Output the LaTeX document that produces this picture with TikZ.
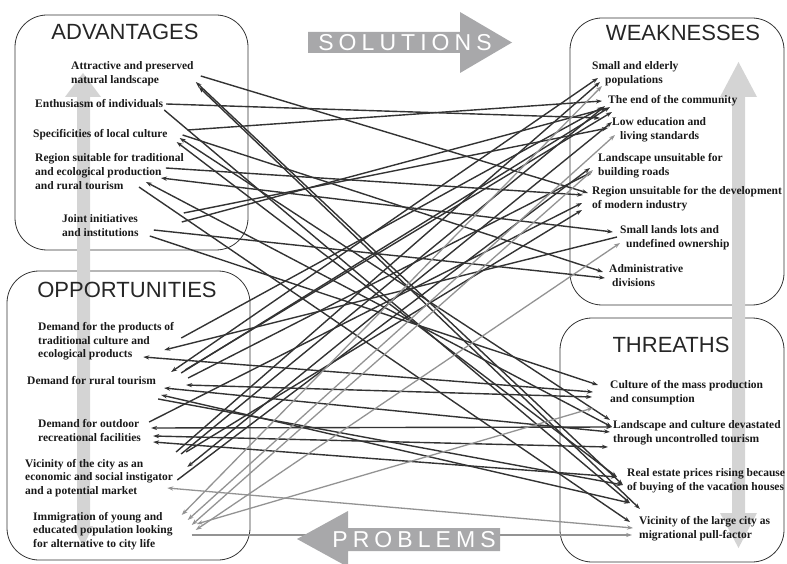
\documentclass[tikz,border=0pt]{standalone}
\usepackage{fontspec}
\setmainfont{Liberation Serif}
\setsansfont{Liberation Sans}
\usetikzlibrary{arrows.meta}
\definecolor{linkdark}{HTML}{333333}
\definecolor{linklight}{HTML}{939393}
\definecolor{bandgray}{HTML}{D4D4D4}
\definecolor{bannergray}{HTML}{A8A8AA}
\tikzset{
  panel/.style={draw=black!80, line width=0.8pt, rounded corners=32pt},
  item/.style={font=\fontsize{11.5}{13.6}\selectfont\bfseries, align=left, inner sep=0pt, anchor=west, text=black!90},
  title/.style={font=\sffamily\fontsize{22}{22}\selectfont, inner sep=0pt, text=black!85},
  bannertext/.style={font=\sffamily\fontsize{23}{23}\selectfont\addfontfeature{LetterSpace=22}, inner sep=0pt, text=white},
  link/.style={draw=linkdark, line width=1.4pt, ->},
  faint/.style={draw=linklight, line width=1.3pt, <->}
}
\begin{document}
\begin{tikzpicture}[x=1pt, y=-1pt, >={Stealth[length=6pt,width=4.2pt]}]
  \useasboundingbox (0,0) rectangle (787,564);

  \draw[panel] (15,15) rectangle (248,250);
  \draw[panel] (570,18) rectangle (784,305);
  \draw[panel] (7,271) rectangle (250,560);
  \draw[panel] (560,318) rectangle (784,562);

  \fill[bandgray] (77,97) -- (65,97) -- (83,73) -- (101,97) -- (90,97) -- (90,526)
    -- (93,526) -- (83,547) -- (73,526) -- (77,526) -- cycle;
  \fill[bandgray] (732,97) -- (720,97) -- (738.5,62) -- (757,97) -- (745,97) -- (745,513)
    -- (757,513) -- (738.5,548) -- (720,513) -- (732,513) -- cycle;

  \node[title] (advtitle) at (125,32) {ADVANTAGES};
  \node[title] (weaktitle) at (683,33) {WEAKNESSES};
  \node[title] (opptitle) at (127,290) {OPPORTUNITIES};
  \node[title] (thrtitle) at (671,345) {THREATHS};

  \node[item] (adv1) at (71,73.5) {Attractive and preserved\\natural landscape};
  \node[item] (adv2) at (35,104) {Enthusiasm of individuals};
  \node[item] (adv3) at (33,135) {Specificities of local culture};
  \node[item] (adv4) at (35,171.5) {Region suitable for traditional\\and ecological production\\and rural tourism};
  \node[item] (adv5) at (62,225.5) {Joint initiatives\\and institutions};

  \node[item] (weak1) at (592,74) {Small and elderly\\\hspace*{13pt}populations};
  \node[item] (weak2) at (608,101) {The end of the community};
  \node[item] (weak3) at (612,130) {Low education and\\\hspace*{8pt}living standards};
  \node[item] (weak4) at (598,165.5) {Landscape unsuitable for\\building roads};
  \node[item] (weak5) at (592,198.5) {Region unsuitable for the development\\of modern industry};
  \node[item] (weak6) at (620,237.5) {Small lands lots and\\\hspace*{6pt}undefined ownership};
  \node[item] (weak7) at (609,275.5) {Administrative\\\hspace*{3pt}divisions};

  \node[item] (opp1) at (38,341.5) {Demand for the products of\\traditional culture and\\ecological products};
  \node[item] (opp2) at (27,381) {Demand for rural tourism};
  \node[item] (opp3) at (38,430.5) {Demand for outdoor\\recreational facilities};
  \node[item] (opp4) at (25,478) {Vicinity of the city as an\\economic and social instigator\\and a potential market};
  \node[item] (opp5) at (33,531) {Immigration of young and\\educated population looking\\for alternative to city life};

  \node[item] (thr1) at (610,392.5) {Culture of the mass production\\and consumption};
  \node[item] (thr2) at (613,433) {Landscape and culture devastated\\through uncontrolled tourism};
  \node[item] (thr3) at (627,480.5) {Real estate prices rising because\\of buying of the vacation houses};
  \node[item] (thr4) at (639,528.5) {Vicinity of the large city as\\migrational pull-factor};

  \draw[link] ([shift={(7,2.5)}]adv1.east) -- ([shift={(-4,-5.5)}]weak5.west);
  \draw[link] ([shift={(3,0)}]adv2.east) -- ([shift={(-12,-12)}]weak3.west);
  \draw[link] ([shift={(20,-5)}]adv3.east) -- ([shift={(-6,0)}]weak2.west);
  \draw[link] ([shift={(15,0)}]adv3.east) -- ([shift={(-6,-3.5)}]weak7.west);
  \draw[link] ([shift={(-18,-3.5)}]adv4.east) -- ([shift={(-9,-3.5)}]weak5.west);
  \draw[link,<->] ([shift={(-23,6.5)}]adv4.east) -- ([shift={(-7,-5.5)}]weak6.west);
  \draw[link] ([shift={(43,-3.5)}]adv5.east) -- ([shift={(-1,7)}]weak2.west);
  \draw[link] ([shift={(45,-12.5)}]adv5.east) -- ([shift={(-4,-2)}]weak3.west);
  \draw[link] ([shift={(15,4.5)}]adv5.east) -- ([shift={(-4,2.5)}]weak7.west);
  \draw[link] ([shift={(7,-3.5)}]opp1.east) -- ([shift={(-5,6)}]weak2.west);
  \draw[link,<-] ([shift={(-10,8.5)}]opp1.east) -- ([shift={(-3,-0.5)}]weak6.west);
  \draw[link,<->] ([shift={(15,-9)}]opp2.east) -- ([shift={(6,4)}]weak1.west);
  \draw[link] ([shift={(25,-8)}]opp2.east) -- ([shift={(2,6)}]weak2.west);
  \draw[link] ([shift={(29,-11)}]opp2.east) -- ([shift={(0,-18)}]weak3.west);
  \draw[link] ([shift={(32,-3)}]opp2.east) -- ([shift={(-6,6.5)}]weak4.west);
  \draw[link] ([shift={(8,-8.5)}]opp3.east) -- ([shift={(-10,4.5)}]weak5.west);
  \draw[link] ([shift={(35,21.5)}]opp3.east) -- ([shift={(8,8)}]weak1.west);
  \draw[link] ([shift={(40,23.5)}]opp3.east) -- ([shift={(-3,5)}]weak2.west);
  \draw[link] ([shift={(45,21.5)}]opp3.east) -- ([shift={(-10,11.5)}]weak5.west);
  \draw[link,<->] ([shift={(14,-11)}]opp4.east) -- ([shift={(0,-8)}]weak3.west);
  \draw[link] ([shift={(4,2)}]opp4.east) -- ([shift={(-8,2.5)}]weak4.west);

  \draw[link,<->] ([shift={(2,8.5)}]adv1.east) -- ([shift={(-4,4.5)}]thr3.west);
  \draw[link,<->] ([shift={(5,13.5)}]adv1.east) -- ([shift={(1,-19.5)}]thr4.west);
  \draw[link] ([shift={(1,6)}]adv2.east) -- ([shift={(-9,-25.5)}]thr4.west);
  \draw[link,<->] ([shift={(12,3)}]adv3.east) -- ([shift={(-3,-13)}]thr2.west);
  \draw[link,<->] ([shift={(9,7)}]adv3.east) -- ([shift={(-10,-3.5)}]thr3.west);
  \draw[link,<->] ([shift={(-38,10.5)}]adv4.east) -- ([shift={(-1,-6)}]thr2.west);
  \draw[link] ([shift={(-45,15.5)}]adv4.east) -- ([shift={(-9,-6.5)}]thr4.west);
  \draw[link] ([shift={(11,10.5)}]adv5.east) -- ([shift={(-12,-7.5)}]thr1.west);
  \draw[link,<->] ([shift={(-31,15.5)}]opp1.east) -- ([shift={(-17,-0.5)}]thr1.west);
  \draw[link,<->] ([shift={(30,4)}]opp2.east) -- ([shift={(-18,4.5)}]thr1.west);
  \draw[link,<->] ([shift={(8,7)}]opp2.east) -- ([shift={(-3,-1)}]thr2.west);
  \draw[link,<->] ([shift={(5,14)}]opp2.east) -- ([shift={(-9,-25.5)}]thr4.west);
  \draw[link] ([shift={(2,18)}]opp2.east) -- ([shift={(-4,4.5)}]thr3.west);
  \draw[link,<->] ([shift={(10,-2.5)}]opp3.east) -- ([shift={(-1,-6)}]thr2.west);
  \draw[link,<->] ([shift={(12,5.5)}]opp3.east) -- ([shift={(-5,14)}]thr2.west);
  \draw[link,<->] ([shift={(12,11.5)}]opp3.east) -- ([shift={(-10,-3.5)}]thr3.west);

  \draw[faint] ([shift={(9,-16)}]opp5.east) -- ([shift={(10,12)}]weak1.west);
  \draw[faint] ([shift={(15,-11)}]opp5.east) -- ([shift={(3,5)}]weak3.west);
  \draw[faint] ([shift={(19,-6)}]opp5.east) -- ([shift={(-5,4.5)}]weak4.west);
  \draw[faint] ([shift={(23,-1)}]opp5.east) -- ([shift={(0,5.5)}]weak6.west);
  \draw[faint] ([shift={(24,-7)}]opp5.east) -- ([shift={(-17,15.5)}]thr1.west);
  \draw[faint] ([shift={(-6,10)}]opp4.east) -- ([shift={(-6,-0.5)}]thr4.west);
  \draw[faint,->] ([shift={(19,4)}]opp5.east) -- ([shift={(-7,6.5)}]thr4.west);

  \fill[bannergray] (308,32) -- (460,32) -- (460,12) -- (512,42.5) -- (460,73) -- (460,53)
    -- (308,53) -- cycle;
  \node[bannertext] (sol) at (405,43) {SOLUTIONS};
  \fill[bannergray] (500,528) -- (348,528) -- (348,511) -- (297,539) -- (348,567) -- (348,551)
    -- (500,551) -- cycle;
  \node[bannertext] (prob) at (414,540) {PROBLEMS};
\end{tikzpicture}
\end{document}
